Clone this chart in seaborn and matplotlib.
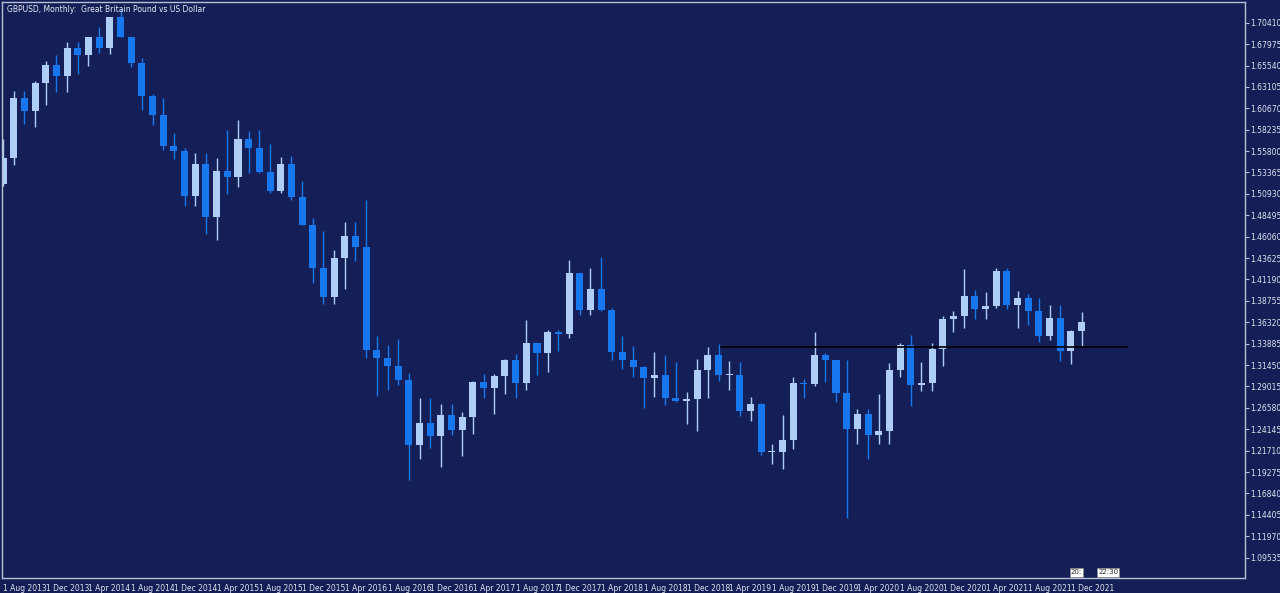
import numpy as np
import pandas as pd
import matplotlib
matplotlib.use("Agg")
import matplotlib.pyplot as plt
import seaborn as sns

months = pd.date_range("2013-08-01", "2022-01-01", freq="MS")
opens = [1.5206,1.5500,1.6180,1.6035,1.6357,1.6562,1.6440,1.6750,1.6673,1.6880,1.6750,1.7110,
         1.6880,1.6585,1.6212,1.5995,1.5640,1.5577,1.5065,1.5436,1.4830,1.5350,1.5283,1.5713,
         1.5615,1.5340,1.5127,1.5429,1.5061,1.4736,1.4247,1.3920,1.4369,1.4618,1.4484,1.3313,
         1.3226,1.3131,1.2977,1.2233,1.2487,1.2339,1.2578,1.2407,1.2552,1.2950,1.2883,1.3026,
         1.3204,1.2936,1.3396,1.3283,1.3525,1.3500,1.4190,1.3768,1.4015,1.3768,1.3298,1.3205,
         1.3125,1.2999,1.3036,1.2767,1.2737,1.2754,1.3086,1.3263,1.3030,1.3036,1.2627,1.2697,
         1.2155,1.2161,1.2292,1.2942,1.2928,1.3255,1.3205,1.2828,1.2415,1.2593,1.2347,1.2398,
         1.3087,1.3371,1.2915,1.2945,1.3328,1.3673,1.3707,1.3933,1.3783,1.3813,1.4220,1.3832,
         1.3905,1.3755,1.3475,1.3680,1.3300,1.3530]
highs = [1.5717,1.6260,1.6260,1.6379,1.6603,1.6668,1.6823,1.6820,1.6854,1.6996,1.7064,1.7192,
         1.6880,1.6644,1.6227,1.6187,1.5786,1.5618,1.5553,1.5553,1.5498,1.5815,1.5930,1.5803,
         1.5820,1.5659,1.5508,1.5529,1.5239,1.4815,1.4668,1.4459,1.4770,1.4770,1.5018,1.3481,
         1.3373,1.3445,1.3057,1.2775,1.2775,1.2706,1.2706,1.2615,1.2965,1.3047,1.3048,1.3213,
         1.3267,1.3657,1.3338,1.3549,1.3549,1.4345,1.4145,1.4245,1.4377,1.3797,1.3472,1.3363,
         1.3140,1.3298,1.3258,1.3176,1.2839,1.3215,1.3350,1.3382,1.3196,1.3177,1.2784,1.2709,
         1.2249,1.2582,1.3012,1.2986,1.3516,1.3285,1.3200,1.3201,1.2644,1.2648,1.2813,1.3170,
         1.3395,1.3482,1.3176,1.3398,1.3704,1.3759,1.4240,1.4000,1.3975,1.4250,1.4249,1.3983,
         1.3958,1.3913,1.3834,1.3834,1.3548,1.3750]
lows = [1.5187,1.5425,1.5894,1.5855,1.6104,1.6250,1.6253,1.6460,1.6550,1.6693,1.6690,1.6877,
        1.6533,1.6052,1.5875,1.5590,1.5486,1.4952,1.4951,1.4634,1.4565,1.5088,1.5170,1.5330,
        1.5330,1.5107,1.5106,1.5026,1.4741,1.4079,1.3835,1.3836,1.4006,1.4330,1.3228,1.2798,
        1.2865,1.2915,1.1841,1.2082,1.2200,1.1986,1.2345,1.2109,1.2365,1.2772,1.2589,1.2811,
        1.2774,1.2858,1.3027,1.3062,1.3302,1.3458,1.3713,1.3711,1.3758,1.3204,1.3101,1.3010,
        1.2661,1.2786,1.2696,1.2723,1.2477,1.2396,1.2773,1.2960,1.2865,1.2560,1.2506,1.2119,
        1.2015,1.1959,1.2195,1.2769,1.2905,1.2954,1.2725,1.1409,1.2248,1.2076,1.2252,1.2252,
        1.3005,1.2676,1.2855,1.2854,1.3134,1.3520,1.3566,1.3670,1.3669,1.3800,1.3787,1.3571,
        1.3600,1.3412,1.3434,1.3194,1.3161,1.3358]
closes = opens[1:] + [1.3640]

yticks = [1.70410,1.67975,1.65540,1.63105,1.60670,1.58235,1.55800,1.53365,1.50930,1.48495,
          1.46060,1.43625,1.41190,1.38755,1.36320,1.33885,1.31450,1.29015,1.26580,1.24145,
          1.21710,1.19275,1.16840,1.14405,1.11970,1.09535]
xlabels = ["1 Aug 2013","1 Dec 2013","1 Apr 2014","1 Aug 2014","1 Dec 2014","1 Apr 2015",
           "1 Aug 2015","1 Dec 2015","1 Apr 2016","1 Aug 2016","1 Dec 2016","1 Apr 2017",
           "1 Aug 2017","1 Dec 2017","1 Apr 2018","1 Aug 2018","1 Dec 2018","1 Apr 2019",
           "1 Aug 2019","1 Dec 2019","1 Apr 2020","1 Aug 2020","1 Dec 2020","1 Apr 2021",
           "1 Aug 2021","1 Dec 2021"]
level = 1.3351
level_start = 1.3351

df = pd.DataFrame({"date": months, "open": opens, "high": highs, "low": lows, "close": closes})
df["i"] = np.arange(len(df))
df["bull"] = df["close"] >= df["open"]

sns.set_style("dark")
bg = "#131f56"
fig = plt.figure(figsize=(12.8, 5.93), dpi=100, facecolor=bg)
ax = fig.add_axes([2/1280, 15/593, 1243/1280, 576/593])
ax.set_facecolor(bg)

up_c, dn_c = "#aecdf7", "#1677ee"
for bull, col in [(True, up_c), (False, dn_c)]:
    d = df[df["bull"] == bull]
    ax.vlines(d["i"], d["low"], d["high"], color=col, lw=1)
    h = (d["close"] - d["open"]).abs().clip(lower=0.0012)
    ax.bar(d["i"], h, bottom=np.minimum(d["open"], d["close"]), width=0.66, color=col, linewidth=0)

ax.hlines(level, 67.1, 105.3, color="black", lw=1.2)

ax.set_xlim(-0.1, 116.3)
ax.set_ylim(1.07222, 1.72766)
for s in ax.spines.values():
    s.set_color("#b8c0d8"); s.set_linewidth(1)
ax.grid(False)
ax.yaxis.tick_right()
ax.set_yticks(yticks)
ax.set_yticklabels([f"{v:.5f}" for v in yticks], fontsize=5.5, color="#dfe4f0")
xt = df["i"][::4]
ax.set_xticks(xt)
ax.set_xticklabels(xlabels, fontsize=5.5, color="#dfe4f0", ha="left")
ax.tick_params(axis="both", colors="#b8c0d8", length=3, width=0.8, pad=1)
for lab in ax.get_xticklabels():
    lab.set_color("#dfe4f0")
for lab in ax.get_yticklabels():
    lab.set_color("#dfe4f0")
ax.text(0.004, 0.995, "GBPUSD, Monthly:  Great Britain Pound vs US Dollar", transform=ax.transAxes,
        fontsize=5.5, color="#e8ecf5", va="top", ha="left")
ax.text(100.5, 1.0785, "20:", fontsize=5, color="#222", va="center", ha="center",
        bbox=dict(boxstyle="square,pad=0.15", fc="white", ec="#888", lw=0.5))
ax.text(103.5, 1.0785, "22:30", fontsize=5, color="#222", va="center", ha="center",
        bbox=dict(boxstyle="square,pad=0.15", fc="white", ec="#888", lw=0.5))
fig.savefig("out.png", dpi=100, facecolor=bg)
